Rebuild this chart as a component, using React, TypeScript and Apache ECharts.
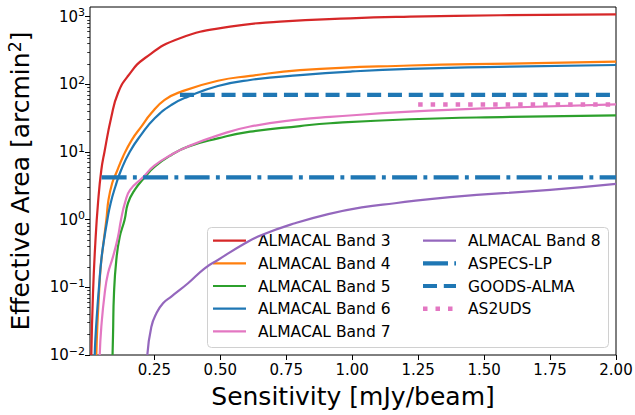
import React, { useEffect, useRef } from "react";
import * as echarts from "echarts";

// Effective area (arcmin^2) versus sensitivity (mJy/beam) for each ALMACAL band
const band3Sens = [0.011, 0.0174, 0.0262, 0.0364, 0.0489, 0.061, 0.0868, 0.1122, 0.15, 0.2146, 0.347, 0.537, 0.726, 0.992, 1.219, 1.56, 2.0];
const band3Area = [0.01, 0.0824, 0.452, 1.77, 5.42, 10.1, 33, 74.5, 133, 245, 480, 711, 843, 946, 1000, 1049, 1085];

const band4Sens = [0.030, 0.0337, 0.0402, 0.0466, 0.0553, 0.0679, 0.076, 0.09, 0.105, 0.131, 0.164, 0.2005, 0.238, 0.289, 0.352, 0.491, 0.613, 0.802, 1.219, 1.6, 2.0];
const band4Area = [0.01, 0.026, 0.082, 0.202, 0.40, 0.99, 1.95, 3.45, 4.85, 8.53, 15, 23.7, 37.3, 58.8, 78, 113, 133, 162, 190, 203, 216];

const band5Sens = [0.0915, 0.0933, 0.097, 0.1058, 0.1187, 0.137, 0.15, 0.1755, 0.2134, 0.2513, 0.3143, 0.3776, 0.491, 0.613, 0.802, 0.916, 1.219, 1.6, 2.0];
const band5Area = [0.01, 0.02, 0.082, 0.254, 0.56, 0.99, 1.75, 2.75, 4.23, 6.07, 9.04, 12, 15.9, 20, 24.2, 26.6, 30.5, 33, 34.9];

const band6Sens = [0.0239, 0.0262, 0.0326, 0.0402, 0.0489, 0.0591, 0.0716, 0.084, 0.102, 0.124, 0.157, 0.1995, 0.2513, 0.314, 0.3776, 0.491, 0.613, 0.802, 1.0, 1.219, 1.6, 2.0];
const band6Area = [0.01, 0.0167, 0.0413, 0.102, 0.254, 0.5, 0.99, 1.74, 3.07, 5.42, 10.1, 17.9, 31.5, 49.5, 65.8, 94.6, 116, 137, 155, 169, 183, 193];

const band7Sens = [0.0428, 0.0489, 0.0618, 0.0743, 0.0933, 0.1122, 0.1236, 0.139, 0.158, 0.207, 0.25, 0.3143, 0.3776, 0.491, 0.613, 0.802, 0.916, 1.219, 1.6, 2.0];
const band7Area = [0.01, 0.026, 0.082, 0.161, 0.284, 0.56, 1.0, 1.8, 2.75, 4.23, 6.3, 9.1, 12.1, 17.6, 23.8, 30.3, 33, 39.5, 45.5, 50.7];

const band8Sens = [0.2233, 0.2384, 0.2574, 0.2828, 0.3143, 0.3776, 0.4409, 0.491, 0.594, 0.657, 0.783, 0.909, 1.036, 1.162, 1.371, 1.75, 2.0];
const band8Area = [0.01, 0.026, 0.041, 0.058, 0.073, 0.115, 0.191, 0.254, 0.448, 0.594, 0.885, 1.21, 1.52, 1.75, 2.16, 2.75, 3.37];

// Survey areas (constant effective area over a sensitivity range)
const aspecsRange = [0.05, 2.0];
const aspecsArea = 4.23;
const goodsRange = [0.347, 2.0];
const goodsArea = 70;
const as2udsRange = [1.25, 2.0];
const as2udsArea = 50.4;

const xTicks = [0.25, 0.5, 0.75, 1.0, 1.25, 1.5, 1.75, 2.0];
const yDecades = [-2, -1, 0, 1, 2, 3];

const FONT = "DejaVu Sans";
const C = {
  red: "#d62728",
  orange: "#ff7f0e",
  green: "#2ca02c",
  blue: "#1f77b4",
  pink: "#e377c2",
  purple: "#9467bd",
};

const LOG_MIN = -2;
const LOG_MAX = 3.143;

const pairs = (xs: number[], ys: number[]) => xs.map((x, i) => [x, Math.log10(ys[i])]);
const flat = (range: number[], v: number) => range.map((x) => [x, Math.log10(v)]);

const minorTicks: number[] = [];
for (let d = -2; d <= 3; d++) {
  for (let k = 2; k <= 9; k++) {
    const v = d + Math.log10(k);
    if (v < LOG_MAX) minorTicks.push(v);
  }
}

const DASH_DOT = [25, 6.3, 3.9, 6.3];
const DASHED = [14, 6.8];
const DOTTED = [4.5, 8];

type Entry = { name: string; color: string; width: number; dash?: number[] };
const legendEntries: Entry[] = [
  { name: "ALMACAL Band 3", color: C.red, width: 2.2 },
  { name: "ALMACAL Band 4", color: C.orange, width: 2.2 },
  { name: "ALMACAL Band 5", color: C.green, width: 2.2 },
  { name: "ALMACAL Band 6", color: C.blue, width: 2.2 },
  { name: "ALMACAL Band 7", color: C.pink, width: 2.2 },
  { name: "ALMACAL Band 8", color: C.purple, width: 2.2 },
  { name: "ASPECS-LP", color: C.blue, width: 4.2, dash: DASH_DOT },
  { name: "GOODS-ALMA", color: C.blue, width: 4.2, dash: DASHED },
  { name: "AS2UDS", color: C.pink, width: 4.4, dash: DOTTED },
];

function buildLegend() {
  const box = { x: 207.5, y: 227.5, w: 401, h: 120 };
  const rowY = [240.7, 263.3, 286, 308.7, 331.3];
  const cols = [
    { hx: 213, tx: 258 },
    { hx: 423, tx: 468 },
  ];
  const children: any[] = [
    {
      type: "rect",
      shape: { x: box.x, y: box.y, width: box.w, height: box.h, r: 4 },
      style: { fill: "rgba(255,255,255,0.8)", stroke: "#d0d0d0", lineWidth: 1 },
    },
  ];
  legendEntries.forEach((e, i) => {
    const col = cols[i < 5 ? 0 : 1];
    const y = rowY[i < 5 ? i : i - 5];
    children.push({
      type: "line",
      shape: { x1: col.hx, y1: y, x2: col.hx + 33, y2: y },
      style: { stroke: e.color, lineWidth: e.width, lineDash: e.dash || null, lineCap: "butt" },
    });
    children.push({
      type: "text",
      x: col.tx,
      y: y + 0.5,
      style: { text: e.name, fill: "#000", font: `15.5px '${FONT}'`, verticalAlign: "middle", align: "left" },
    });
  });
  return { type: "group", z: 100, children };
}

export default function App() {
  const ref = useRef<HTMLDivElement>(null);
  useEffect(() => {
    if (!ref.current) return;
    const chart = echarts.init(ref.current, null, { renderer: "svg" });
    const curve = (name: string, xs: number[], ys: number[], color: string) => ({
      name,
      type: "line",
      data: pairs(xs, ys),
      showSymbol: false,
      symbol: "none",
      smooth: 0.5,
      clip: true,
      lineStyle: { color, width: 2.2 },
    });
    const survey = (name: string, range: number[], v: number, color: string, width: number, dash: number[]) => ({
      name,
      type: "line",
      data: flat(range, v),
      symbol: "none",
      clip: true,
      lineStyle: { color, width, type: dash, cap: "butt" },
    });
    chart.setOption({
      animation: false,
      backgroundColor: "#fff",
      textStyle: { fontFamily: FONT },
      grid: {
        left: 90,
        right: 19,
        top: 7,
        bottom: 60,
        show: true,
        borderColor: "#000",
        borderWidth: 1,
        backgroundColor: "transparent",
        containLabel: false,
        outerBoundsMode: "none",
      },
      xAxis: {
        type: "value",
        min: 0.006,
        max: 2.0,
        axisLine: { show: false, onZero: false },
        splitLine: { show: false },
        axisTick: { show: true, length: 5, lineStyle: { color: "#000", width: 1 }, customValues: xTicks },
        axisLabel: {
          customValues: xTicks,
          formatter: (v: number) => v.toFixed(2),
          color: "#000",
          fontSize: 15,
          fontFamily: FONT,
          margin: 7,
        },
        name: "Sensitivity [mJy/beam]",
        nameLocation: "middle",
        nameGap: 29,
        nameTextStyle: { fontSize: 25, color: "#000", fontFamily: FONT },
      },
      yAxis: [
        {
          type: "value",
          min: LOG_MIN,
          max: LOG_MAX,
          axisLine: { show: false, onZero: false },
          splitLine: { show: false },
          axisTick: { show: true, length: 5, lineStyle: { color: "#000", width: 1 }, customValues: yDecades },
          axisLabel: {
            customValues: yDecades,
            formatter: (v: number) => {
              const n = Math.round(v);
              const s = n < 0 ? "\u2212" + Math.abs(n) : String(n);
              return `{b|10}{s|${s}}`;
            },
            margin: 5,
            rich: {
              b: { fontSize: 15, lineHeight: 15, color: "#000", fontFamily: FONT },
              s: { fontSize: 11, lineHeight: 11, color: "#000", fontFamily: FONT, padding: [0, 0, 8, 0] },
            },
          },
          name: "{t|Effective Area [arcmin}{u|2}{t|]}",
          nameLocation: "middle",
          nameGap: 57,
          nameRotate: 90,
          nameTextStyle: {
            rich: {
              t: { fontSize: 25, color: "#000", fontFamily: FONT, lineHeight: 25 },
              u: { fontSize: 17.5, color: "#000", fontFamily: FONT, lineHeight: 17.5, padding: [0, 0, 12, 0] },
            },
          },
        },
        {
          type: "value",
          min: LOG_MIN,
          max: LOG_MAX,
          position: "left",
          axisLine: { show: false, onZero: false },
          splitLine: { show: false },
          axisLabel: { show: false },
          axisTick: { show: true, length: 2.8, lineStyle: { color: "#000", width: 0.8 }, customValues: minorTicks },
        },
      ],
      graphic: [buildLegend()],
      series: [
        curve("ALMACAL Band 3", band3Sens, band3Area, C.red),
        curve("ALMACAL Band 4", band4Sens, band4Area, C.orange),
        curve("ALMACAL Band 5", band5Sens, band5Area, C.green),
        curve("ALMACAL Band 6", band6Sens, band6Area, C.blue),
        curve("ALMACAL Band 7", band7Sens, band7Area, C.pink),
        curve("ALMACAL Band 8", band8Sens, band8Area, C.purple),
        survey("ASPECS-LP", aspecsRange, aspecsArea, C.blue, 4.2, DASH_DOT),
        survey("GOODS-ALMA", goodsRange, goodsArea, C.blue, 4.2, DASHED),
        survey("AS2UDS", as2udsRange, as2udsArea, C.pink, 4.4, DOTTED),
      ],
    });
    return () => chart.dispose();
  }, []);
  return <div ref={ref} style={{ position: "fixed", left: 0, top: 0, width: 635, height: 415 }} />;
}
